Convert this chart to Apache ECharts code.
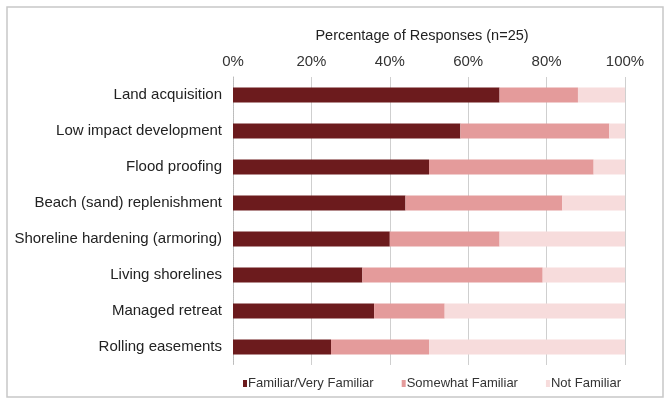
<!DOCTYPE html>
<html>
<head>
<meta charset="utf-8">
<script src="https://cdn.jsdelivr.net/npm/echarts@6/dist/echarts.min.js"></script>
<style>
  html, body { margin: 0; padding: 0; background: #fff; }
  #chart { width: 668px; height: 404px; }
</style>
</head>
<body>
<div id="chart"></div>
<script>
// Familiarity with coastal adaptation strategies (share of respondents)
const categories = [
  'Land acquisition',
  'Low impact development',
  'Flood proofing',
  'Beach (sand) replenishment',
  'Shoreline hardening (armoring)',
  'Living shorelines',
  'Managed retreat',
  'Rolling easements'
];
const familiar = [68, 58, 50, 44, 40, 33, 36, 25];
const somewhat = [20, 38, 42, 40, 28, 46, 18, 25];
const notFamiliar = [12, 4, 8, 16, 32, 21, 46, 50];
const tickLabels = ['0%', '20%', '40%', '60%', '80%', '100%'];
const seriesNames = ['Familiar/Very Familiar', 'Somewhat Familiar', 'Not Familiar'];
const axisTitle = 'Percentage of Responses (n=25)';

const colors = ['#6c1b1d', '#e49b9b', '#f7dcdc'];
const font = 'Liberation Sans, Arial, sans-serif';

const chart = echarts.init(document.getElementById('chart'), null, { renderer: 'canvas' });

const mk = (name, data, color) => ({
  name,
  type: 'bar',
  stack: 'total',
  data,
  barWidth: 15,
  itemStyle: { color },
  emphasis: { disabled: true }
});

chart.setOption({
  animation: false,
  backgroundColor: '#fff',
  graphic: [{
    type: 'rect',
    shape: { x: 7, y: 7, width: 656, height: 390 },
    style: { fill: 'none', stroke: '#c8c8c8', lineWidth: 1.5 },
    silent: true
  }],
  grid: { left: 233, right: 43, top: 77, bottom: 39 },
  legend: {
    bottom: 9,
    left: 238,
    itemWidth: 4,
    itemHeight: 7,
    itemGap: 28,
    icon: 'rect',
    textStyle: { fontFamily: font, fontSize: 13, color: '#333', padding: [0, 0, 0, -4] },
    data: seriesNames
  },
  xAxis: {
    type: 'value',
    position: 'top',
    min: 0,
    max: 100,
    interval: 20,
    name: axisTitle,
    nameLocation: 'middle',
    nameGap: 34,
    nameTextStyle: { fontFamily: font, fontSize: 14.5, color: '#222', padding: [0, 14, 0, 0] },
    axisLine: { show: false },
    axisTick: { show: false },
    axisLabel: {
      fontFamily: font, fontSize: 15, color: '#333', margin: 8,
      formatter: v => tickLabels[Math.round(v / 20)]
    },
    splitLine: { show: true, lineStyle: { color: '#cfcfcf', width: 1 } }
  },
  yAxis: {
    type: 'category',
    data: categories,
    inverse: true,
    axisLine: { show: true, lineStyle: { color: '#bbb', type: 'dotted' } },
    axisTick: { show: false },
    axisLabel: { fontFamily: font, fontSize: 15, color: '#222', margin: 11 }
  },
  series: [
    mk(seriesNames[0], familiar, colors[0]),
    mk(seriesNames[1], somewhat, colors[1]),
    mk(seriesNames[2], notFamiliar, colors[2])
  ]
});
</script>
</body>
</html>
